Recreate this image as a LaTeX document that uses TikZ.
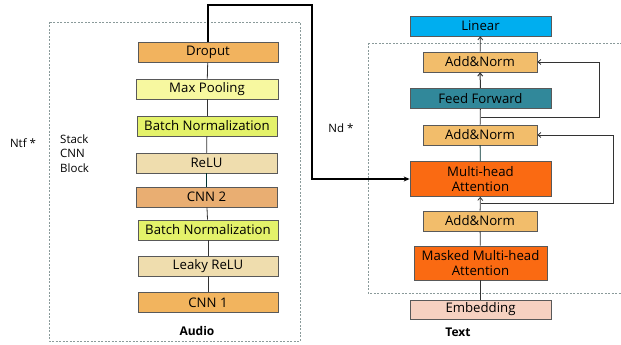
\documentclass[tikz,border=0pt]{standalone}
\usepackage{fontspec}
\setmainfont{Open Sans}
\usetikzlibrary{arrows.meta}
\definecolor{cDrop}{HTML}{F2B35E}
\definecolor{cMax}{HTML}{F7F8A0}
\definecolor{cBN}{HTML}{E4F26A}
\definecolor{cRelu}{HTML}{EFDDAE}
\definecolor{cCnnTwo}{HTML}{E9AE72}
\definecolor{cCnnOne}{HTML}{F2B45E}
\definecolor{cAdd}{HTML}{F2BD6B}
\definecolor{cFF}{HTML}{31889A}
\definecolor{cMHA}{HTML}{FA6A12}
\definecolor{cLin}{HTML}{00AEEF}
\definecolor{cEmb}{HTML}{F6D1C1}
\definecolor{cDash}{HTML}{8A9A9A}
\tikzset{
  blk/.style={draw=black!65, line width=0.7pt, minimum height=20pt, inner sep=0pt, font=\fontsize{13.2}{13}\selectfont, align=center},
  wide/.style={blk, minimum width=141pt},
  narrow/.style={blk, minimum width=114pt},
  conn/.style={draw=black!80, line width=0.8pt},
  arr/.style={conn, -{Straight Barb[length=3pt,width=5pt]}},
  bigarr/.style={draw=black, line width=1.1pt, -{Stealth[length=6pt,width=5pt]}},
  dbox/.style={draw=cDash, line width=0.7pt, dash pattern=on 2pt off 1.5pt},
  lbl/.style={font=\fontsize{11.5}{13}\selectfont, inner sep=0pt}
}
\begin{document}
\begin{tikzpicture}[x=1pt,y=-1pt]
\useasboundingbox (0,0) rectangle (621,345);
\clip (0,0) rectangle (621,345);
% dashed groups
\draw[dbox] (49,22) rectangle (300,341);
\draw[dbox] (368,43) rectangle (630,293);
% audio column
\node[wide, fill=cDrop, minimum width=140pt] (drop) at (208,52.5) {Droput};
\node[wide, fill=cMax, minimum width=142pt] (maxp) at (207,89) {Max Pooling};
\node[wide, fill=cBN, minimum width=140pt] (bn1) at (207,126) {Batch Normalization};
\node[wide, fill=cRelu] (relu) at (206.5,163) {ReLU};
\node[wide, fill=cCnnTwo] (cnn2) at (206.5,197) {CNN 2};
\node[wide, fill=cBN, minimum width=140pt] (bn2) at (208,230) {Batch Normalization};
\node[wide, fill=cRelu, minimum width=140pt] (leaky) at (208,266) {Leaky ReLU};
\node[wide, fill=cCnnOne, minimum width=140pt] (cnn1) at (208,302.5) {CNN 1};
\node[lbl, font=\fontsize{12}{13}\selectfont\bfseries] (audio) at (197,331) {Audio};
\node[lbl] (ntf) at (23,143) {Ntf *};
\node[lbl, anchor=west, align=left, font=\fontsize{11.5}{14.5}\selectfont] (stack) at (60,153.5) {Stack\\CNN\\Block};
\draw[conn] (cnn1) -- (leaky);
\draw[conn] (leaky) -- (bn2);
\draw[conn] (bn2) -- (cnn2);
\draw[conn, draw=black!60!teal] (cnn2) -- (relu);
\draw[conn] (relu) -- (bn1);
\draw[conn] (bn1) -- (maxp);
\draw[conn] (maxp) -- (drop);
% text column
\node[wide, fill=cLin] (lin) at (480.5,26) {Linear};
\node[narrow, fill=cAdd] (an3) at (480,62) {Add\&Norm};
\node[wide, fill=cFF] (ff) at (480.5,98.5) {Feed Forward};
\node[narrow, fill=cAdd] (an2) at (480,135) {Add\&Norm};
\node[wide, fill=cMHA, minimum height=35pt, font=\fontsize{13.2}{15}\selectfont] (mha) at (480.5,179) {Multi-head\\Attention};
\node[narrow, fill=cAdd] (an1) at (480,221) {Add\&Norm};
\node[wide, fill=cMHA, minimum width=133pt, minimum height=34pt, font=\fontsize{13.2}{15}\selectfont] (mmha) at (480.5,263) {Masked Multi-head\\Attention};
\node[wide, fill=cEmb, minimum height=19pt] (emb) at (480.5,309.5) {Embedding};
\node[lbl, font=\fontsize{12}{13}\selectfont\bfseries] (text) at (458,332) {Text};
\node[lbl] (nd) at (341,128) {Nd *};
\draw[conn] (emb) -- (mmha);
\draw[conn] (mmha) -- (an1);
\draw[arr] (an1) -- (mha);
\draw[conn, draw=black!60!teal] (mha) -- (an2);
\draw[conn] (an2) -- (ff);
\draw[arr, line width=1pt] (ff) -- (an3);
\draw[arr] (an3) -- (lin);
% residuals
\coordinate (r1) at (480.5,117);
\coordinate (r2) at (480.5,203);
\draw[arr] (r1) -- (599,117) |- (an3.east);
\draw[arr] (r2) -- (613,203) |- (an2.east);
% cross connection
\draw[bigarr] (drop.north) -- (208,5) -- (312,5) |- (mha.west);
\end{tikzpicture}
\end{document}
